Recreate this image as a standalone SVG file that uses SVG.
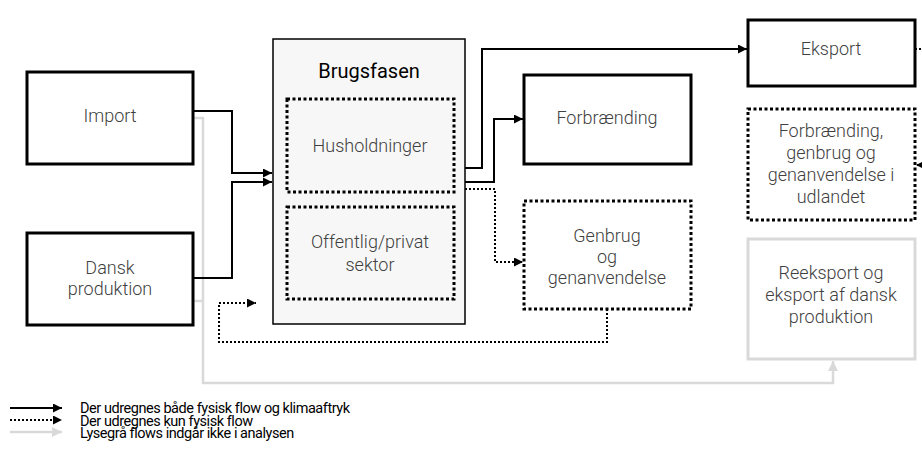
<svg xmlns="http://www.w3.org/2000/svg" width="922" height="461" viewBox="0 0 922 461">
<style>
.bg{fill:#ffffff}
.box{fill:#ffffff;stroke:#000;stroke-width:3}
.main{fill:#f7f7f7;stroke:#000;stroke-width:1.5}
.dot{fill:#ffffff;stroke:#000;stroke-width:3;stroke-dasharray:3 2.5}
.dotin{fill:none;stroke:#000;stroke-width:3;stroke-dasharray:3 2.5}
.grey{fill:#ffffff;stroke:#d9d9d9;stroke-width:3}
.t{font-family:Roboto,"Liberation Sans",sans-serif;font-weight:300;font-size:18px;fill:#404040;text-anchor:middle}
.h{font-family:Roboto,"Liberation Sans",sans-serif;font-weight:400;font-size:20px;fill:#000;text-anchor:middle}
.lg{font-family:Roboto,"Liberation Sans",sans-serif;font-weight:400;font-size:14.5px;fill:#000;letter-spacing:-0.45px}
.c{fill:none;stroke:#000;stroke-width:2}
.cd{fill:none;stroke:#000;stroke-width:2;stroke-dasharray:2 2}
.cg{fill:none;stroke:#d9d9d9;stroke-width:2.5}
</style>
<defs>
<marker id="a" viewBox="0 0 10 10" refX="10" refY="5" markerWidth="4.5" markerHeight="4.5" orient="auto" markerUnits="strokeWidth"><path d="M0,0 L10,5 L0,10 z" fill="#000"/></marker>
<marker id="ag" viewBox="0 0 10 10" refX="10" refY="5" markerWidth="4" markerHeight="4" orient="auto" markerUnits="strokeWidth"><path d="M0,0 L10,5 L0,10 z" fill="#d9d9d9"/></marker>
</defs>
<rect class="bg" x="0" y="0" width="922" height="461"/>

<g id="connectors">
<path class="cg" d="M193,118 H203 V383 H833 V361" marker-end="url(#ag)"/>
<path class="cg" d="M193,301 H203"/>
<path class="c" d="M193,111 H232 V173 H272" marker-end="url(#a)"/>
<path class="c" d="M193,278 H232 V182 H272" marker-end="url(#a)"/>
<path class="c" d="M465,168 H482 V49 H747" marker-end="url(#a)"/>
<path class="c" d="M465,182 H494 V119 H523" marker-end="url(#a)"/>
<path class="cd" d="M465,189 H495 V262 H523" marker-end="url(#a)"/>
<path class="cd" d="M607,309 V342 H219 V303 H256" marker-end="url(#a)"/>
<path class="cd" d="M915,49 H935 V165 H916" marker-end="url(#a)"/>
</g>

<g id="import"><rect class="box" x="27" y="72" width="166" height="92"/><text class="t" x="110" y="122">Import</text></g>
<g id="dansk"><rect class="box" x="27" y="233" width="166" height="92"/><text class="t" x="110" y="274">Dansk</text><text class="t" x="110" y="295">produktion</text></g>

<g id="brugsfasen"><rect class="main" x="273" y="39" width="192" height="285"/><text class="h" x="369" y="78">Brugsfasen</text></g>
<g id="husholdninger"><rect class="dotin" x="287" y="99" width="167" height="93"/><text class="t" x="370" y="152">Husholdninger</text></g>
<g id="offentlig"><rect class="dotin" x="287" y="207" width="167" height="92"/><text class="t" x="370" y="248">Offentlig/privat</text><text class="t" x="370" y="271">sektor</text></g>

<g id="forbraending"><rect class="box" x="524" y="75" width="167" height="89"/><text class="t" x="607" y="124">Forbrænding</text></g>
<g id="genbrug"><rect class="dot" x="524" y="201" width="167" height="108"/><text class="t" x="607" y="242">Genbrug</text><text class="t" x="607" y="263">og</text><text class="t" x="607" y="284">genanvendelse</text></g>

<g id="eksport"><rect class="box" x="748" y="20" width="167" height="66"/><text class="t" x="831" y="55">Eksport</text></g>
<g id="udlandet"><rect class="dot" x="748" y="109" width="167" height="111"/><text class="t" x="831" y="137">Forbrænding,</text><text class="t" x="831" y="159">genbrug og</text><text class="t" x="831" y="181">genanvendelse i</text><text class="t" x="831" y="203">udlandet</text></g>
<g id="reeksport"><rect class="grey" x="748" y="239" width="167" height="120"/><text class="t" x="831" y="279">Reeksport og</text><text class="t" x="831" y="301">eksport af dansk</text><text class="t" x="831" y="323">produktion</text></g>

<g id="legend">
<path class="c" d="M10,408 H62" marker-end="url(#a)"/>
<path class="cd" d="M10,420 H62" marker-end="url(#a)"/>
<path class="cg" d="M10,432 H62" marker-end="url(#ag)"/>
<text class="lg" x="80" y="413">Der udregnes både fysisk flow og klimaaftryk</text>
<text class="lg" x="80" y="425.5">Der udregnes kun fysisk flow</text>
<text class="lg" x="80" y="438">Lysegrå flows indgår ikke i analysen</text>
</g>
</svg>
